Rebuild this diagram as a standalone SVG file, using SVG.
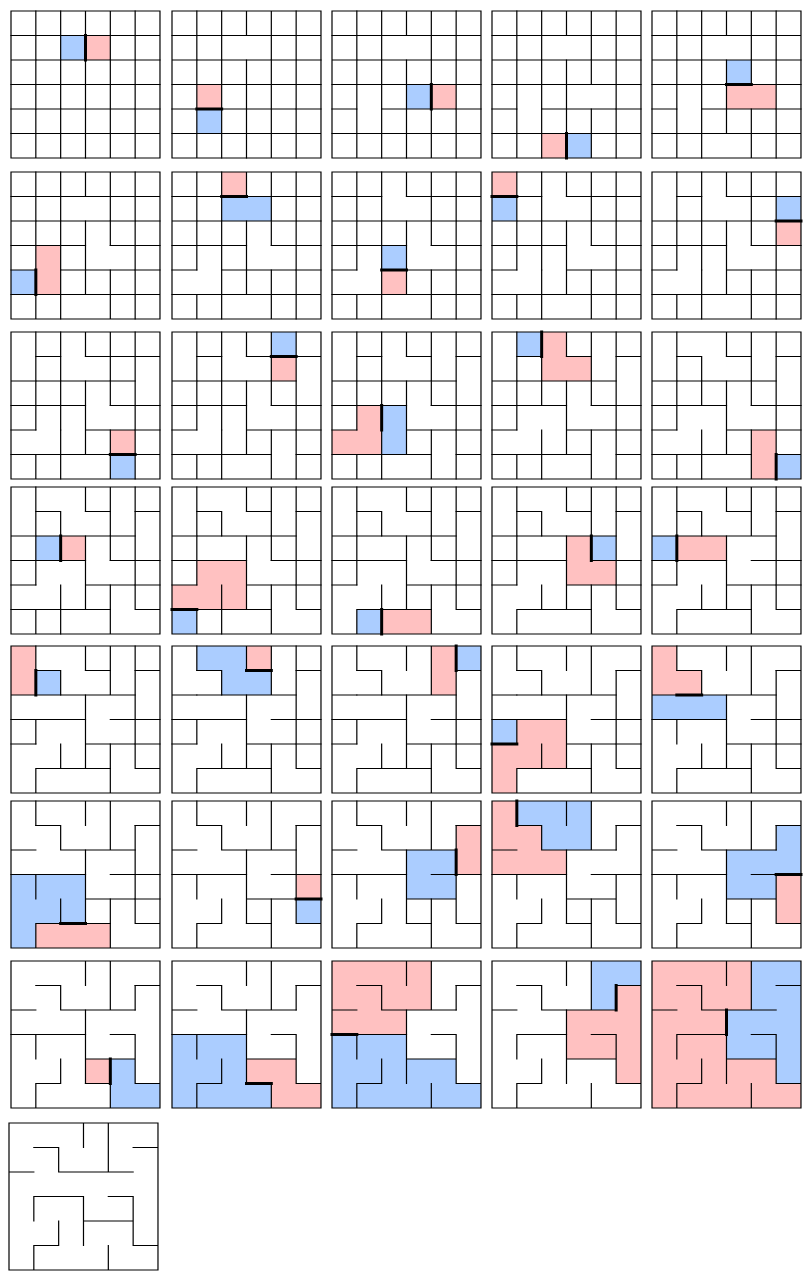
<svg xmlns="http://www.w3.org/2000/svg" xmlns:xlink="http://www.w3.org/1999/xlink" width="812" height="1284" viewBox="0 0 812 1284">
<style>
.w{fill:none;stroke:#000;stroke-width:1.2;stroke-linecap:square;vector-effect:non-scaling-stroke}
.t{fill:none;stroke:#000;stroke-width:3;stroke-linecap:square;vector-effect:non-scaling-stroke}
.b{fill:#abcdff}
.p{fill:#ffc1c1}
</style>
<defs>
<path id="perm" class="w" d="M0 0h6v6h-6z M1 1h1 M5 1h1 M3 0v1 M4 0v2 M2 1v1 M0 2h1 M2 2h3 M1 3h2 M4 3h1 M1 3v1 M3 3v2 M5 3v2 M3 4h2 M2 4v1 M1 5h1 M5 5h1 M1 5v1 M4 5v1"/>
</defs>
<rect width="812" height="1284" fill="#fff"/>
<g id="step01" transform="translate(11 11) scale(24.83 24.5)"><path class="b" d="M2 1h1v1h-1z"/><path class="p" d="M3 1h1v1h-1z"/><use href="#perm"/><path class="w" d="M1 4h1 M4 3v1 M3 5v1 M3 3h1 M1 4v1 M2 1h1 M2 4h1 M0 1h1 M5 2h1 M4 5h1 M4 1h1 M2 3v1 M2 0v1 M5 5v1 M2 2v1 M0 5h1 M2 5v1 M4 2v1 M1 2v1 M1 1v1 M3 1h1 M5 0v1 M0 4h1 M1 2h1 M2 5h1 M5 4h1 M5 2v1 M1 0v1 M5 3h1 M4 4v1 M3 5h1 M0 3h1 M5 1v1 M3 2v1"/><path class="t" d="M3 1v1"/></g>
<g id="step02" transform="translate(172 11) scale(24.83 24.5)"><path class="b" d="M1 4h1v1h-1z"/><path class="p" d="M1 3h1v1h-1z"/><use href="#perm"/><path class="w" d="M4 3v1 M3 5v1 M3 3h1 M1 4v1 M2 1h1 M2 4h1 M0 1h1 M5 2h1 M4 5h1 M4 1h1 M2 3v1 M2 0v1 M5 5v1 M2 2v1 M0 5h1 M2 5v1 M4 2v1 M1 2v1 M1 1v1 M3 1h1 M5 0v1 M0 4h1 M1 2h1 M2 5h1 M5 4h1 M5 2v1 M1 0v1 M5 3h1 M4 4v1 M3 5h1 M0 3h1 M5 1v1 M3 2v1"/><path class="t" d="M1 4h1"/></g>
<g id="step03" transform="translate(332 11) scale(24.83 24.5)"><path class="b" d="M3 3h1v1h-1z"/><path class="p" d="M4 3h1v1h-1z"/><use href="#perm"/><path class="w" d="M3 5v1 M3 3h1 M1 4v1 M2 1h1 M2 4h1 M0 1h1 M5 2h1 M4 5h1 M4 1h1 M2 3v1 M2 0v1 M5 5v1 M2 2v1 M0 5h1 M2 5v1 M4 2v1 M1 2v1 M1 1v1 M3 1h1 M5 0v1 M0 4h1 M1 2h1 M2 5h1 M5 4h1 M5 2v1 M1 0v1 M5 3h1 M4 4v1 M3 5h1 M0 3h1 M5 1v1 M3 2v1"/><path class="t" d="M4 3v1"/></g>
<g id="step04" transform="translate(492 11) scale(24.83 24.5)"><path class="b" d="M3 5h1v1h-1z"/><path class="p" d="M2 5h1v1h-1z"/><use href="#perm"/><path class="w" d="M3 3h1 M1 4v1 M2 1h1 M2 4h1 M0 1h1 M5 2h1 M4 5h1 M4 1h1 M2 3v1 M2 0v1 M5 5v1 M2 2v1 M0 5h1 M2 5v1 M4 2v1 M1 2v1 M1 1v1 M3 1h1 M5 0v1 M0 4h1 M1 2h1 M2 5h1 M5 4h1 M5 2v1 M1 0v1 M5 3h1 M4 4v1 M3 5h1 M0 3h1 M5 1v1 M3 2v1"/><path class="t" d="M3 5v1"/></g>
<g id="step05" transform="translate(652 11) scale(24.83 24.5)"><path class="b" d="M3 2h1v1h-1z"/><path class="p" d="M3 3h2v1h-2z"/><use href="#perm"/><path class="w" d="M1 4v1 M2 1h1 M2 4h1 M0 1h1 M5 2h1 M4 5h1 M4 1h1 M2 3v1 M2 0v1 M5 5v1 M2 2v1 M0 5h1 M2 5v1 M4 2v1 M1 2v1 M1 1v1 M3 1h1 M5 0v1 M0 4h1 M1 2h1 M2 5h1 M5 4h1 M5 2v1 M1 0v1 M5 3h1 M4 4v1 M3 5h1 M0 3h1 M5 1v1 M3 2v1"/><path class="t" d="M3 3h1"/></g>
<g id="step06" transform="translate(11 172) scale(24.83 24.5)"><path class="b" d="M0 4h1v1h-1z"/><path class="p" d="M1 3h1v2h-1z"/><use href="#perm"/><path class="w" d="M2 1h1 M2 4h1 M0 1h1 M5 2h1 M4 5h1 M4 1h1 M2 3v1 M2 0v1 M5 5v1 M2 2v1 M0 5h1 M2 5v1 M4 2v1 M1 2v1 M1 1v1 M3 1h1 M5 0v1 M0 4h1 M1 2h1 M2 5h1 M5 4h1 M5 2v1 M1 0v1 M5 3h1 M4 4v1 M3 5h1 M0 3h1 M5 1v1 M3 2v1"/><path class="t" d="M1 4v1"/></g>
<g id="step07" transform="translate(172 172) scale(24.83 24.5)"><path class="b" d="M2 1h2v1h-2z"/><path class="p" d="M2 0h1v1h-1z"/><use href="#perm"/><path class="w" d="M2 4h1 M0 1h1 M5 2h1 M4 5h1 M4 1h1 M2 3v1 M2 0v1 M5 5v1 M2 2v1 M0 5h1 M2 5v1 M4 2v1 M1 2v1 M1 1v1 M3 1h1 M5 0v1 M0 4h1 M1 2h1 M2 5h1 M5 4h1 M5 2v1 M1 0v1 M5 3h1 M4 4v1 M3 5h1 M0 3h1 M5 1v1 M3 2v1"/><path class="t" d="M2 1h1"/></g>
<g id="step08" transform="translate(332 172) scale(24.83 24.5)"><path class="b" d="M2 3h1v1h-1z"/><path class="p" d="M2 4h1v1h-1z"/><use href="#perm"/><path class="w" d="M0 1h1 M5 2h1 M4 5h1 M4 1h1 M2 3v1 M2 0v1 M5 5v1 M2 2v1 M0 5h1 M2 5v1 M4 2v1 M1 2v1 M1 1v1 M3 1h1 M5 0v1 M0 4h1 M1 2h1 M2 5h1 M5 4h1 M5 2v1 M1 0v1 M5 3h1 M4 4v1 M3 5h1 M0 3h1 M5 1v1 M3 2v1"/><path class="t" d="M2 4h1"/></g>
<g id="step09" transform="translate(492 172) scale(24.83 24.5)"><path class="b" d="M0 1h1v1h-1z"/><path class="p" d="M0 0h1v1h-1z"/><use href="#perm"/><path class="w" d="M5 2h1 M4 5h1 M4 1h1 M2 3v1 M2 0v1 M5 5v1 M2 2v1 M0 5h1 M2 5v1 M4 2v1 M1 2v1 M1 1v1 M3 1h1 M5 0v1 M0 4h1 M1 2h1 M2 5h1 M5 4h1 M5 2v1 M1 0v1 M5 3h1 M4 4v1 M3 5h1 M0 3h1 M5 1v1 M3 2v1"/><path class="t" d="M0 1h1"/></g>
<g id="step10" transform="translate(652 172) scale(24.83 24.5)"><path class="b" d="M5 1h1v1h-1z"/><path class="p" d="M5 2h1v1h-1z"/><use href="#perm"/><path class="w" d="M4 5h1 M4 1h1 M2 3v1 M2 0v1 M5 5v1 M2 2v1 M0 5h1 M2 5v1 M4 2v1 M1 2v1 M1 1v1 M3 1h1 M5 0v1 M0 4h1 M1 2h1 M2 5h1 M5 4h1 M5 2v1 M1 0v1 M5 3h1 M4 4v1 M3 5h1 M0 3h1 M5 1v1 M3 2v1"/><path class="t" d="M5 2h1"/></g>
<g id="step11" transform="translate(11 332) scale(24.83 24.5)"><path class="b" d="M4 5h1v1h-1z"/><path class="p" d="M4 4h1v1h-1z"/><use href="#perm"/><path class="w" d="M4 1h1 M2 3v1 M2 0v1 M5 5v1 M2 2v1 M0 5h1 M2 5v1 M4 2v1 M1 2v1 M1 1v1 M3 1h1 M5 0v1 M0 4h1 M1 2h1 M2 5h1 M5 4h1 M5 2v1 M1 0v1 M5 3h1 M4 4v1 M3 5h1 M0 3h1 M5 1v1 M3 2v1"/><path class="t" d="M4 5h1"/></g>
<g id="step12" transform="translate(172 332) scale(24.83 24.5)"><path class="b" d="M4 0h1v1h-1z"/><path class="p" d="M4 1h1v1h-1z"/><use href="#perm"/><path class="w" d="M2 3v1 M2 0v1 M5 5v1 M2 2v1 M0 5h1 M2 5v1 M4 2v1 M1 2v1 M1 1v1 M3 1h1 M5 0v1 M0 4h1 M1 2h1 M2 5h1 M5 4h1 M5 2v1 M1 0v1 M5 3h1 M4 4v1 M3 5h1 M0 3h1 M5 1v1 M3 2v1"/><path class="t" d="M4 1h1"/></g>
<g id="step13" transform="translate(332 332) scale(24.83 24.5)"><path class="b" d="M2 3h1v2h-1z"/><path class="p" d="M1 3h1v2h-2v-1h1z"/><use href="#perm"/><path class="w" d="M2 0v1 M5 5v1 M2 2v1 M0 5h1 M2 5v1 M4 2v1 M1 2v1 M1 1v1 M3 1h1 M5 0v1 M0 4h1 M1 2h1 M2 5h1 M5 4h1 M5 2v1 M1 0v1 M5 3h1 M4 4v1 M3 5h1 M0 3h1 M5 1v1 M3 2v1"/><path class="t" d="M2 3v1"/></g>
<g id="step14" transform="translate(492 332) scale(24.83 24.5)"><path class="b" d="M1 0h1v1h-1z"/><path class="p" d="M2 0h1v1h1v1h-2z"/><use href="#perm"/><path class="w" d="M5 5v1 M2 2v1 M0 5h1 M2 5v1 M4 2v1 M1 2v1 M1 1v1 M3 1h1 M5 0v1 M0 4h1 M1 2h1 M2 5h1 M5 4h1 M5 2v1 M1 0v1 M5 3h1 M4 4v1 M3 5h1 M0 3h1 M5 1v1 M3 2v1"/><path class="t" d="M2 0v1"/></g>
<g id="step15" transform="translate(652 332) scale(24.83 24.5)"><path class="b" d="M5 5h1v1h-1z"/><path class="p" d="M4 4h1v2h-1z"/><use href="#perm"/><path class="w" d="M2 2v1 M0 5h1 M2 5v1 M4 2v1 M1 2v1 M1 1v1 M3 1h1 M5 0v1 M0 4h1 M1 2h1 M2 5h1 M5 4h1 M5 2v1 M1 0v1 M5 3h1 M4 4v1 M3 5h1 M0 3h1 M5 1v1 M3 2v1"/><path class="t" d="M5 5v1"/></g>
<g id="step16" transform="translate(11 487) scale(24.83 24.5)"><path class="b" d="M1 2h1v1h-1z"/><path class="p" d="M2 2h1v1h-1z"/><use href="#perm"/><path class="w" d="M0 5h1 M2 5v1 M4 2v1 M1 2v1 M1 1v1 M3 1h1 M5 0v1 M0 4h1 M1 2h1 M2 5h1 M5 4h1 M5 2v1 M1 0v1 M5 3h1 M4 4v1 M3 5h1 M0 3h1 M5 1v1 M3 2v1"/><path class="t" d="M2 2v1"/></g>
<g id="step17" transform="translate(172 487) scale(24.83 24.5)"><path class="b" d="M0 5h1v1h-1z"/><path class="p" d="M1 3h2v2h-3v-1h1z"/><use href="#perm"/><path class="w" d="M2 5v1 M4 2v1 M1 2v1 M1 1v1 M3 1h1 M5 0v1 M0 4h1 M1 2h1 M2 5h1 M5 4h1 M5 2v1 M1 0v1 M5 3h1 M4 4v1 M3 5h1 M0 3h1 M5 1v1 M3 2v1"/><path class="t" d="M0 5h1"/></g>
<g id="step18" transform="translate(332 487) scale(24.83 24.5)"><path class="b" d="M1 5h1v1h-1z"/><path class="p" d="M2 5h2v1h-2z"/><use href="#perm"/><path class="w" d="M4 2v1 M1 2v1 M1 1v1 M3 1h1 M5 0v1 M0 4h1 M1 2h1 M2 5h1 M5 4h1 M5 2v1 M1 0v1 M5 3h1 M4 4v1 M3 5h1 M0 3h1 M5 1v1 M3 2v1"/><path class="t" d="M2 5v1"/></g>
<g id="step19" transform="translate(492 487) scale(24.83 24.5)"><path class="b" d="M4 2h1v1h-1z"/><path class="p" d="M3 2h1v1h1v1h-2z"/><use href="#perm"/><path class="w" d="M1 2v1 M1 1v1 M3 1h1 M5 0v1 M0 4h1 M1 2h1 M2 5h1 M5 4h1 M5 2v1 M1 0v1 M5 3h1 M4 4v1 M3 5h1 M0 3h1 M5 1v1 M3 2v1"/><path class="t" d="M4 2v1"/></g>
<g id="step20" transform="translate(652 487) scale(24.83 24.5)"><path class="b" d="M0 2h1v1h-1z"/><path class="p" d="M1 2h2v1h-2z"/><use href="#perm"/><path class="w" d="M1 1v1 M3 1h1 M5 0v1 M0 4h1 M1 2h1 M2 5h1 M5 4h1 M5 2v1 M1 0v1 M5 3h1 M4 4v1 M3 5h1 M0 3h1 M5 1v1 M3 2v1"/><path class="t" d="M1 2v1"/></g>
<g id="step21" transform="translate(11 646) scale(24.83 24.5)"><path class="b" d="M1 1h1v1h-1z"/><path class="p" d="M0 0h1v2h-1z"/><use href="#perm"/><path class="w" d="M3 1h1 M5 0v1 M0 4h1 M1 2h1 M2 5h1 M5 4h1 M5 2v1 M1 0v1 M5 3h1 M4 4v1 M3 5h1 M0 3h1 M5 1v1 M3 2v1"/><path class="t" d="M1 1v1"/></g>
<g id="step22" transform="translate(172 646) scale(24.83 24.5)"><path class="b" d="M1 0h2v1h1v1h-2v-1h-1z"/><path class="p" d="M3 0h1v1h-1z"/><use href="#perm"/><path class="w" d="M5 0v1 M0 4h1 M1 2h1 M2 5h1 M5 4h1 M5 2v1 M1 0v1 M5 3h1 M4 4v1 M3 5h1 M0 3h1 M5 1v1 M3 2v1"/><path class="t" d="M3 1h1"/></g>
<g id="step23" transform="translate(332 646) scale(24.83 24.5)"><path class="b" d="M5 0h1v1h-1z"/><path class="p" d="M4 0h1v2h-1z"/><use href="#perm"/><path class="w" d="M0 4h1 M1 2h1 M2 5h1 M5 4h1 M5 2v1 M1 0v1 M5 3h1 M4 4v1 M3 5h1 M0 3h1 M5 1v1 M3 2v1"/><path class="t" d="M5 0v1"/></g>
<g id="step24" transform="translate(492 646) scale(24.83 24.5)"><path class="b" d="M0 3h1v1h-1z"/><path class="p" d="M1 3h2v2h-2v1h-1v-2h1z"/><use href="#perm"/><path class="w" d="M1 2h1 M2 5h1 M5 4h1 M5 2v1 M1 0v1 M5 3h1 M4 4v1 M3 5h1 M0 3h1 M5 1v1 M3 2v1"/><path class="t" d="M0 4h1"/></g>
<g id="step25" transform="translate(652 646) scale(24.83 24.5)"><path class="b" d="M0 2h3v1h-3z"/><path class="p" d="M0 0h1v1h1v1h-2z"/><use href="#perm"/><path class="w" d="M2 5h1 M5 4h1 M5 2v1 M1 0v1 M5 3h1 M4 4v1 M3 5h1 M0 3h1 M5 1v1 M3 2v1"/><path class="t" d="M1 2h1"/></g>
<g id="step26" transform="translate(11 801) scale(24.83 24.5)"><path class="b" d="M0 3h3v2h-2v1h-1z"/><path class="p" d="M1 5h3v1h-3z"/><use href="#perm"/><path class="w" d="M5 4h1 M5 2v1 M1 0v1 M5 3h1 M4 4v1 M3 5h1 M0 3h1 M5 1v1 M3 2v1"/><path class="t" d="M2 5h1"/></g>
<g id="step27" transform="translate(172 801) scale(24.83 24.5)"><path class="b" d="M5 4h1v1h-1z"/><path class="p" d="M5 3h1v1h-1z"/><use href="#perm"/><path class="w" d="M5 2v1 M1 0v1 M5 3h1 M4 4v1 M3 5h1 M0 3h1 M5 1v1 M3 2v1"/><path class="t" d="M5 4h1"/></g>
<g id="step28" transform="translate(332 801) scale(24.83 24.5)"><path class="b" d="M3 2h2v2h-2z"/><path class="p" d="M5 1h1v2h-1z"/><use href="#perm"/><path class="w" d="M1 0v1 M5 3h1 M4 4v1 M3 5h1 M0 3h1 M5 1v1 M3 2v1"/><path class="t" d="M5 2v1"/></g>
<g id="step29" transform="translate(492 801) scale(24.83 24.5)"><path class="b" d="M1 0h3v2h-2v-1h-1z"/><path class="p" d="M0 0h1v1h1v1h1v1h-3z"/><use href="#perm"/><path class="w" d="M5 3h1 M4 4v1 M3 5h1 M0 3h1 M5 1v1 M3 2v1"/><path class="t" d="M1 0v1"/></g>
<g id="step30" transform="translate(652 801) scale(24.83 24.5)"><path class="b" d="M5 1h1v2h-1v1h-2v-2h2z"/><path class="p" d="M5 3h1v2h-1z"/><use href="#perm"/><path class="w" d="M4 4v1 M3 5h1 M0 3h1 M5 1v1 M3 2v1"/><path class="t" d="M5 3h1"/></g>
<g id="step31" transform="translate(11 961) scale(24.83 24.5)"><path class="b" d="M4 4h1v1h1v1h-2z"/><path class="p" d="M3 4h1v1h-1z"/><use href="#perm"/><path class="w" d="M3 5h1 M0 3h1 M5 1v1 M3 2v1"/><path class="t" d="M4 4v1"/></g>
<g id="step32" transform="translate(172 961) scale(24.83 24.5)"><path class="b" d="M0 3h3v2h1v1h-4z"/><path class="p" d="M3 4h2v1h1v1h-2v-1h-1z"/><use href="#perm"/><path class="w" d="M0 3h1 M5 1v1 M3 2v1"/><path class="t" d="M3 5h1"/></g>
<g id="step33" transform="translate(332 961) scale(24.83 24.5)"><path class="b" d="M0 3h3v1h2v1h1v1h-6z"/><path class="p" d="M0 0h4v2h-1v1h-3z"/><use href="#perm"/><path class="w" d="M5 1v1 M3 2v1"/><path class="t" d="M0 3h1"/></g>
<g id="step34" transform="translate(492 961) scale(24.83 24.5)"><path class="b" d="M4 0h2v1h-1v1h-1z"/><path class="p" d="M5 1h1v4h-1v-1h-2v-2h2z"/><use href="#perm"/><path class="w" d="M3 2v1"/><path class="t" d="M5 1v1"/></g>
<g id="step35" transform="translate(652 961) scale(24.83 24.5)"><path class="b" d="M4 0h2v5h-1v-1h-2v-2h1z"/><path class="p" d="M0 0h4v2h-1v2h2v1h1v1h-6z"/><use href="#perm"/><path class="t" d="M3 2v1"/></g>
<g id="final" transform="translate(9 1123) scale(24.83 24.5)"><use href="#perm"/></g>
</svg>
